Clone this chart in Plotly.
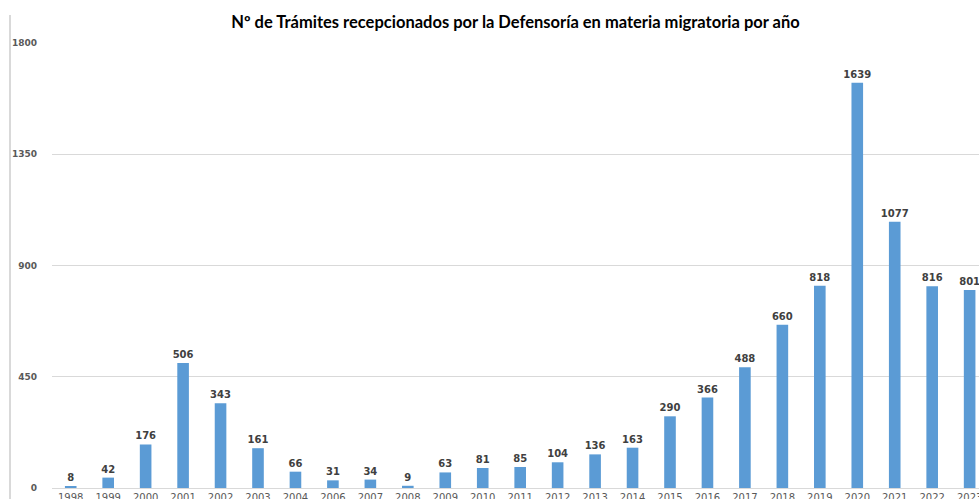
import plotly.graph_objects as go

years = ["1998", "1999", "2000", "2001", "2002", "2003", "2004", "2006", "2007", "2008",
         "2009", "2010", "2011", "2012", "2013", "2014", "2015", "2016", "2017", "2018",
         "2019", "2020", "2021", "2022", "2023"]
values = [8, 42, 176, 506, 343, 161, 66, 31, 34, 9,
          63, 81, 85, 104, 136, 163, 290, 366, 488, 660,
          818, 1639, 1077, 816, 801]
y_ticks = [0, 450, 900, 1350, 1800]

title = "Nº de Trámites recepcionados por la Defensoría en materia migratoria por año"

fig = go.Figure()
fig.add_trace(go.Bar(
    x=years, y=values,
    marker=dict(color="#5b9bd5", line=dict(width=0)),
    width=0.31,
    text=[str(v) for v in values],
    textposition="outside",
    constraintext="none",
    textfont=dict(family="DejaVu Sans", size=10, color="#404040", weight="bold"),
    cliponaxis=True,
    hoverinfo="x+y",
))

fig.update_layout(
    width=979, height=499,
    margin=dict(l=52, r=0, t=43, b=11, pad=0),
    paper_bgcolor="white", plot_bgcolor="white",
    showlegend=False,
    title=dict(text="<b>" + title + "</b>", x=0.5, xref="paper", xanchor="center",
               y=1 - 22 / 499, yref="container", yanchor="middle",
               font=dict(family="Lato", size=16.5, color="#000000")),
    xaxis=dict(type="category", range=[-0.5, 24.25], showgrid=False,
               showline=True, linecolor="#d9d9d9", linewidth=1,
               ticks="", automargin=False,
               tickfont=dict(family="DejaVu Sans", size=10, color="#595959")),
    yaxis=dict(range=[0, 1800], tickvals=y_ticks, ticktext=[str(t) for t in y_ticks],
               showgrid=True, gridcolor="#d9d9d9", gridwidth=1,
               zeroline=False, showline=False, ticks="", automargin=False,
               ticklabelstandoff=14,
               tickfont=dict(family="DejaVu Sans", size=9, color="#595959", weight="bold")),
    bargap=0.69,
)

fig.add_shape(type="line", xref="paper", yref="paper",
              x0=-42/927, x1=-42/927, y0=-11/445, y1=(499-15-11)/445 - 0,
              line=dict(color="#d9d9d9", width=2))

fig.write_html("out.html")
